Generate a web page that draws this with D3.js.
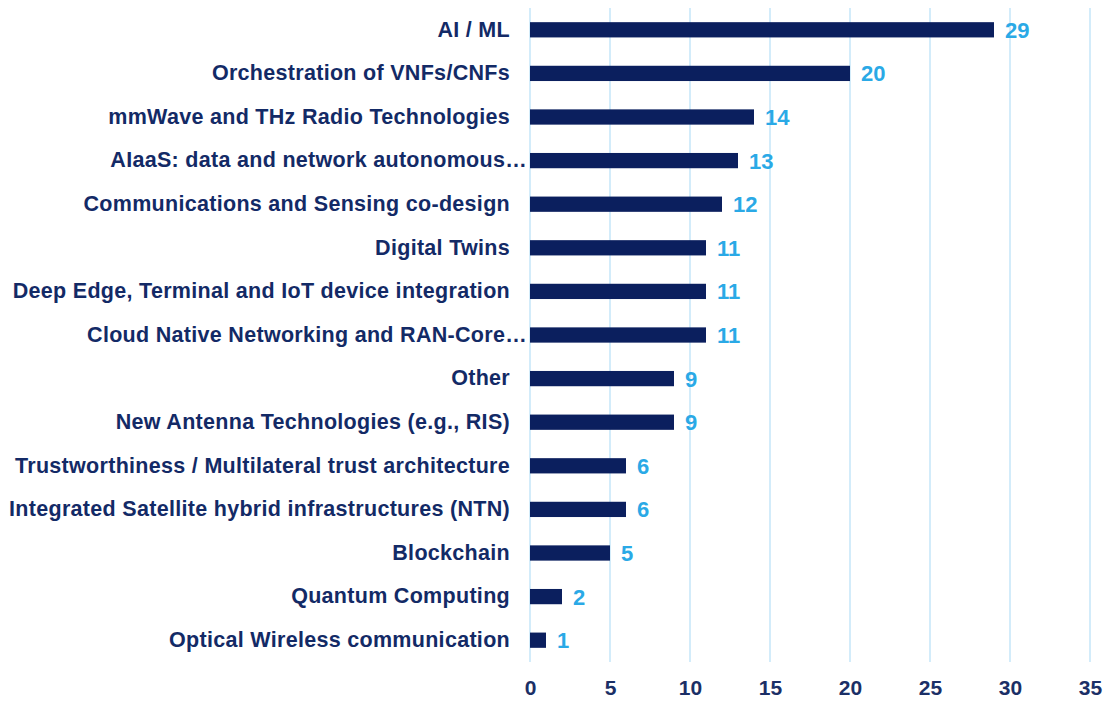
<!DOCTYPE html>
<html>
<head>
<meta charset="utf-8">
<script src="https://cdn.jsdelivr.net/npm/d3@7"></script>
<style>
  html, body { margin: 0; padding: 0; background: #fff; }
  svg text { font-family: "Liberation Sans", Arial, sans-serif; font-weight: bold; }
</style>
</head>
<body>
<div id="chart"></div>
<script>
const categories = [
    'AI / ML',
    'Orchestration of VNFs/CNFs',
    'mmWave and THz Radio Technologies',
    'AIaaS: data and network autonomous\u2026',
    'Communications and Sensing co-design',
    'Digital Twins',
    'Deep Edge, Terminal and IoT device integration',
    'Cloud Native Networking and RAN-Core\u2026',
    'Other',
    'New Antenna Technologies (e.g., RIS)',
    'Trustworthiness / Multilateral trust architecture',
    'Integrated Satellite hybrid infrastructures (NTN)',
    'Blockchain',
    'Quantum Computing',
    'Optical Wireless communication'
];
const values = [29, 20, 14, 13, 12, 11, 11, 11, 9, 9, 6, 6, 5, 2, 1];
const xTicks = [0, 5, 10, 15, 20, 25, 30, 35];

const width = 1110, height = 704;
const margin = { top: 8, right: 20, bottom: 42, left: 530 };

const svg = d3.select('#chart').append('svg')
    .attr('width', width)
    .attr('height', height);

const x = d3.scaleLinear()
    .domain([0, 35])
    .range([margin.left, margin.left + 16 * 35]);

// keep row centres evenly spaced: outer padding is half the inner padding
const y = d3.scaleBand()
    .domain(categories)
    .range([margin.top, height - margin.bottom])
    .paddingInner(0.65)
    .paddingOuter(0.325);

// grid lines
svg.append('g')
    .selectAll('line')
    .data(xTicks)
    .enter().append('line')
    .attr('x1', d => x(d))
    .attr('x2', d => x(d))
    .attr('y1', margin.top)
    .attr('y2', height - margin.bottom)
    .style('stroke', '#d3ecfa')
    .style('stroke-width', 2);

// x axis, labels only
const xAxis = svg.append('g')
    .attr('transform', `translate(0,${height - margin.bottom})`)
    .call(d3.axisBottom(x).tickValues(xTicks).tickSize(0).tickPadding(18));
xAxis.select('.domain').remove();
xAxis.selectAll('text')
    .style('font-size', '21px')
    .style('fill', '#1b2f66')
    .attr('dy', '0.71em');

// y axis, category labels
const yAxis = svg.append('g')
    .attr('transform', `translate(${margin.left},0)`)
    .call(d3.axisLeft(y).tickSize(0).tickPadding(20));
yAxis.select('.domain').remove();
yAxis.selectAll('text')
    .style('font-size', '21.5px')
    .style('letter-spacing', '0.3px')
    .style('fill', '#132a66')
    // truncated labels run right up to the bars
    .attr('x', d => d.endsWith('\u2026') ? -3 : -20);

// bars
svg.append('g')
    .selectAll('rect')
    .data(values)
    .enter().append('rect')
    .attr('x', x(0))
    .attr('y', (d, i) => y(categories[i]))
    .attr('width', d => x(d) - x(0))
    .attr('height', y.bandwidth())
    .style('fill', '#0b1f5e');

// value labels
svg.append('g')
    .selectAll('text')
    .data(values)
    .enter().append('text')
    .attr('x', d => x(d) + 11)
    .attr('y', (d, i) => y(categories[i]) + y.bandwidth() / 2)
    .attr('dy', '0.36em')
    .style('font-size', '22px')
    .style('fill', '#2aa9e6')
    .text(d => d);
</script>
</body>
</html>
